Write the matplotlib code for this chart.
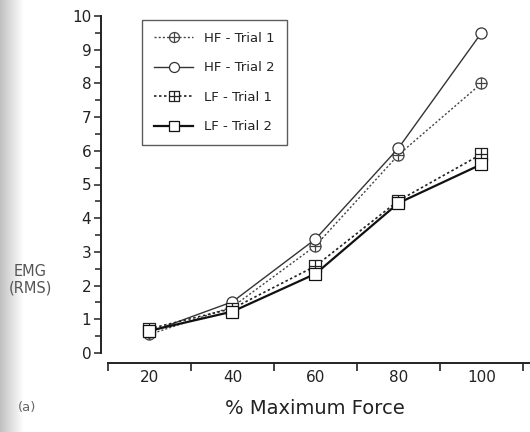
import numpy as np
import matplotlib
matplotlib.use("Agg")
import matplotlib.pyplot as plt
from matplotlib.path import Path
from matplotlib.ticker import MultipleLocator, FixedLocator


force = [20, 40, 60, 80, 100]
hf_trial1 = [0.55, 1.37, 3.18, 5.88, 8.0]
hf_trial2 = [0.62, 1.52, 3.38, 6.08, 9.5]
lf_trial1 = [0.72, 1.32, 2.58, 4.52, 5.9]
lf_trial2 = [0.66, 1.23, 2.35, 4.45, 5.6]
series_labels = ["HF - Trial 1", "HF - Trial 2", "LF - Trial 1", "LF - Trial 2"]

INK = "#222222"

# circle / square markers with a cross through them
cross = Path([(-1, 0), (1, 0), (0, -1), (0, 1)],
             [Path.MOVETO, Path.LINETO, Path.MOVETO, Path.LINETO])
circle_plus = Path.make_compound_path(Path.unit_circle(), cross)
square = Path([(-1, -1), (1, -1), (1, 1), (-1, 1), (-1, -1)],
              [Path.MOVETO, Path.LINETO, Path.LINETO, Path.LINETO, Path.CLOSEPOLY])
square_plus = Path.make_compound_path(square, cross)


def main():
    fig = plt.figure(figsize=(5.3, 4.32), dpi=100)

    # grey scan shadow on the left edge
    shade = fig.add_axes([0, 0, 0.045, 1])
    grad = np.linspace(0.70, 1.0, 64) ** 0.8
    shade.imshow(np.tile(grad, (8, 1)), cmap="gray", vmin=0, vmax=1,
                 aspect="auto", extent=[0, 1, 0, 1])
    shade.axis("off")

    ax = fig.add_axes([108 / 530, (432 - 353) / 432, (530 - 108) / 530, (353 - 16) / 432])

    styles = [
        dict(marker=circle_plus, linestyle=(0, (1.5, 1.5)), linewidth=1.0, color="#444444"),
        dict(marker="o", linestyle="-", linewidth=1.0, color="#333333"),
        dict(marker=square_plus, linestyle=(0, (1.5, 1.5)), linewidth=1.2, color="#222222"),
        dict(marker="s", linestyle="-", linewidth=1.6, color="#111111"),
    ]
    for values, label, st in zip([hf_trial1, hf_trial2, lf_trial1, lf_trial2], series_labels, styles):
        ax.plot(force, values, label=label, markersize=8, markerfacecolor="white",
                markeredgecolor=st["color"], markeredgewidth=0.9, clip_on=False, **st)

    ax.set_xlim(10, 111.7)
    ax.set_ylim(0, 10)

    for side in ["top", "right"]:
        ax.spines[side].set_visible(False)
    ax.spines["left"].set_position(("outward", 5))
    ax.spines["bottom"].set_position(("outward", 7))
    ax.spines["left"].set_linewidth(1.4)
    ax.spines["bottom"].set_linewidth(1.4)
    ax.spines["left"].set_color(INK)
    ax.spines["bottom"].set_color(INK)

    ax.xaxis.set_major_locator(FixedLocator(force))
    ax.xaxis.set_minor_locator(FixedLocator([10, 30, 50, 70, 90, 110]))
    ax.yaxis.set_major_locator(MultipleLocator(1))
    ax.yaxis.set_minor_locator(MultipleLocator(0.5))
    ax.tick_params(axis="x", which="major", length=0, pad=5, labelsize=11, labelcolor=INK)
    ax.tick_params(axis="x", which="minor", length=6, width=1.2, direction="out", color=INK)
    ax.tick_params(axis="y", which="major", length=5, width=1.1, direction="out",
                   pad=2, labelsize=11, labelcolor=INK, color=INK)
    ax.tick_params(axis="y", which="minor", length=4, width=1.1, direction="out", color=INK)

    leg = ax.legend(loc="upper left", bbox_to_anchor=(34 / 422, 0.988), frameon=True,
                    fancybox=False, edgecolor="#333333", fontsize=9.5, handlelength=3.0,
                    labelspacing=1.25, borderpad=0.9, handletextpad=0.8, borderaxespad=0,
                    markerscale=0.9)
    leg.get_frame().set_linewidth(1.0)
    for t in leg.get_texts():
        t.set_color(INK)

    fig.text(315 / 530, 1 - 409 / 432, "% Maximum Force", ha="center", va="center",
             fontsize=14, color=INK)
    fig.text(30 / 530, 1 - 280 / 432, "EMG\n(RMS)", ha="center", va="center",
             fontsize=10.5, color="#555555", linespacing=1.1)
    fig.text(27 / 530, 1 - 407 / 432, "(a)", ha="center", va="center",
             fontsize=9.5, color="#666666")

    fig.savefig("out.png", dpi=100)
    plt.close(fig)


if __name__ == "__main__":
    main()
